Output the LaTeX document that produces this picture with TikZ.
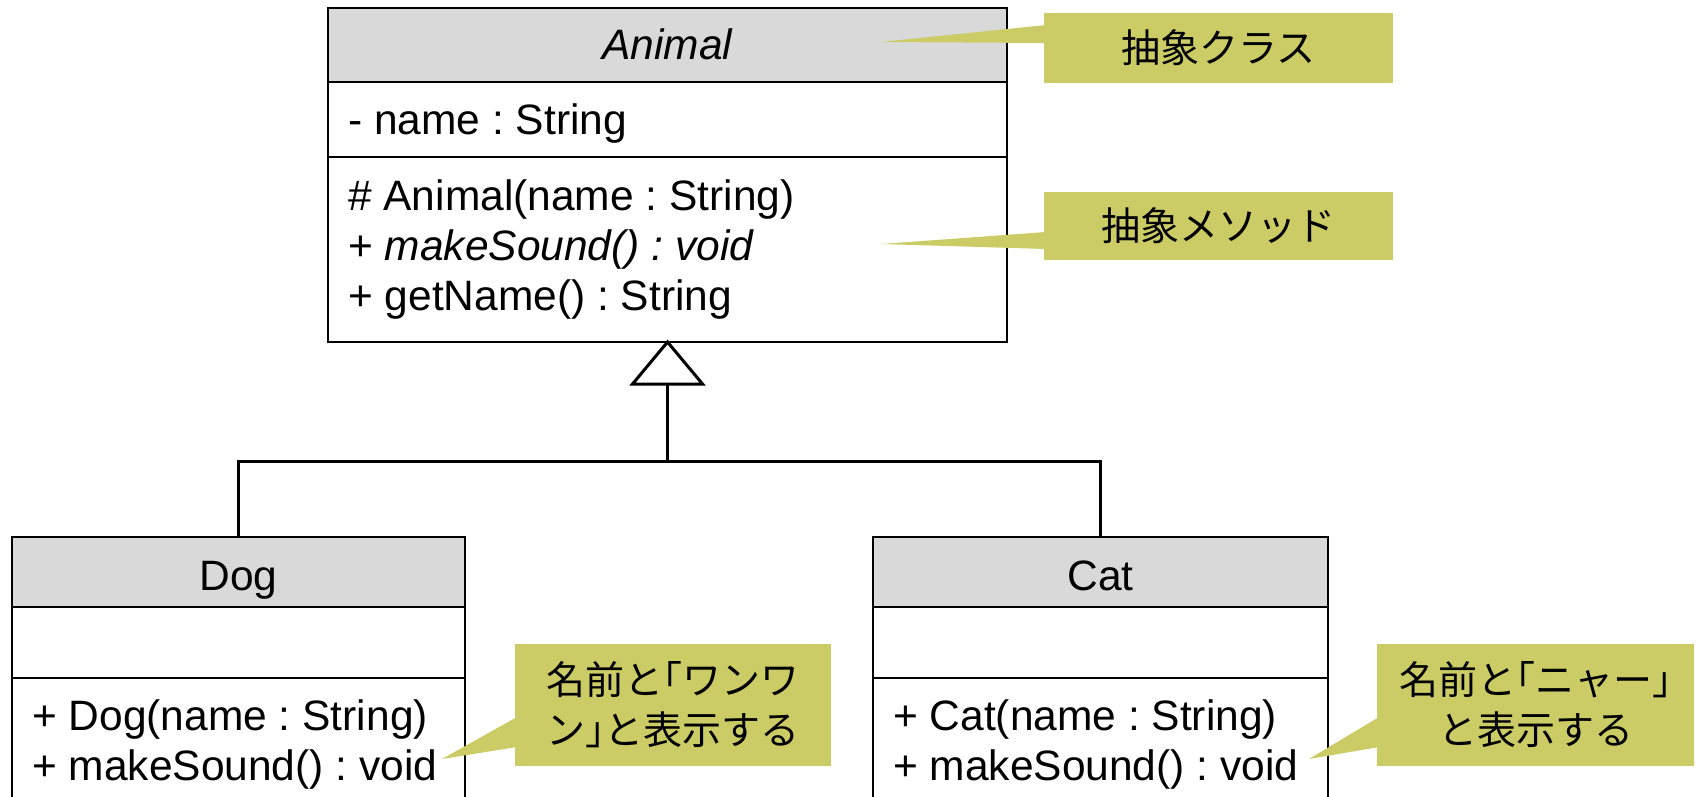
\documentclass[tikz,border=0pt]{standalone}
\usepackage{fontspec}
\setmainfont{Liberation Sans}
\newfontfamily\jpfont{Noto Sans CJK JP}
\newfontfamily\jpbracket[RawFeature=+halt]{Noto Sans CJK JP}
\newcommand\lbrk{{\jpbracket 「}}
\newcommand\rbrk{{\jpbracket 」}}
\usetikzlibrary{calc}
\definecolor{headgray}{RGB}{217,217,217}
\definecolor{notefill}{RGB}{204,204,102}
\frenchspacing

\begin{document}
\begin{tikzpicture}[x=1pt,y=-1pt,
  box/.style={draw=black, line width=2.5pt, anchor=north west, inner sep=0pt, outer sep=0pt},
  hdr/.style={box, fill=headgray},
  lbl/.style={anchor=base west, inner sep=0pt, font=\fontsize{42.5}{50}\selectfont},
  ttl/.style={anchor=base, inner sep=0pt, font=\fontsize{42.5}{50}\selectfont},
  note/.style={fill=notefill, anchor=north west, inner sep=0pt, outer sep=0pt, align=center,
               font=\jpfont\fontsize{39}{50}\selectfont},
  link/.style={draw=black, line width=3pt},
]
\path[use as bounding box] (0,0) rectangle (1698,797);
\clip (0,0) rectangle (1698,797);

% ---- abstract class Animal ----
\node[hdr, minimum width=679, minimum height=74] (animalHead) at (328,8) {};
\node[box, minimum width=679, minimum height=75] (animalAttr) at (328,82) {};
\node[box, minimum width=679, minimum height=185] (animalOps) at (328,157) {};
\node[ttl] (animalName) at (667.5,60) {\itshape Animal};
\node[lbl] (animalField) at (348,135) {- name : String};
\node[lbl] (animalCtor) at (348,210) {\# Animal(name : String)};
\node[lbl] (animalSound) at (348,260) {+ \itshape makeSound() : void};
\node[lbl] (animalGet) at (348,310) {+ getName() : String};

% ---- class Dog ----
\node[hdr, minimum width=453, minimum height=70] (dogHead) at (12,537) {};
\node[box, minimum width=453, minimum height=71] (dogAttr) at (12,607) {};
\node[box, minimum width=453, minimum height=170] (dogOps) at (12,678) {};
\node[ttl] (dogName) at (238.5,590) {Dog};
\node[lbl] (dogCtor) at (32,730) {+ Dog(name : String)};
\node[lbl] (dogSound) at (32,780) {+ makeSound() : void};

% ---- class Cat ----
\node[hdr, minimum width=455, minimum height=70] (catHead) at (873,537) {};
\node[box, minimum width=455, minimum height=71] (catAttr) at (873,607) {};
\node[box, minimum width=455, minimum height=170] (catOps) at (873,678) {};
\node[ttl] (catName) at (1100.5,590) {Cat};
\node[lbl] (catCtor) at (893,730) {+ Cat(name : String)};
\node[lbl] (catSound) at (893,780) {+ makeSound() : void};

% ---- generalization ----
\coordinate (triBase) at ($(animalOps.south)+(0,42)$);
\coordinate (branch) at (667.5,461);
\draw[link] (triBase) -- (branch);
\draw[link] (dogHead.north) |- (branch) -| (catHead.north);
\draw[link, fill=white, line join=miter] (animalOps.south) -- ($(triBase)+(-35,0)$) -- ($(triBase)+(35,0)$) -- cycle;

% ---- notes ----
\node[note, minimum width=349, minimum height=70] (noteClass) at (1044,13) {抽象クラス};
\node[note, minimum width=349, minimum height=68] (noteMethod) at (1044,192) {抽象メソッド};
\node[note, minimum width=316, minimum height=122] (noteDog) at (515,644) {名前と\lbrk ワンワ\\ン\rbrk と表示する};
\node[note, minimum width=317, minimum height=122] (noteCat) at (1377,644) {名前と\lbrk ニャー\rbrk\\と表示する};

\coordinate (tipClass) at (881,42);
\coordinate (tipMethod) at (881,244);
\coordinate (tipDog) at (442,759);
\coordinate (tipCat) at (1309,759);

\fill[notefill] (tipClass) -- ($(noteClass.north west)+(2,12)$) -- ($(noteClass.north west)+(2,30)$) -- cycle;
\fill[notefill] (tipMethod) -- ($(noteMethod.north west)+(2,40)$) -- ($(noteMethod.north west)+(2,57)$) -- cycle;
\fill[notefill] (tipDog) -- ($(noteDog.north west)+(2,73)$) -- ($(noteDog.north west)+(2,103)$) -- cycle;
\fill[notefill] (tipCat) -- ($(noteCat.north west)+(2,73)$) -- ($(noteCat.north west)+(2,103)$) -- cycle;
\end{tikzpicture}
\end{document}
